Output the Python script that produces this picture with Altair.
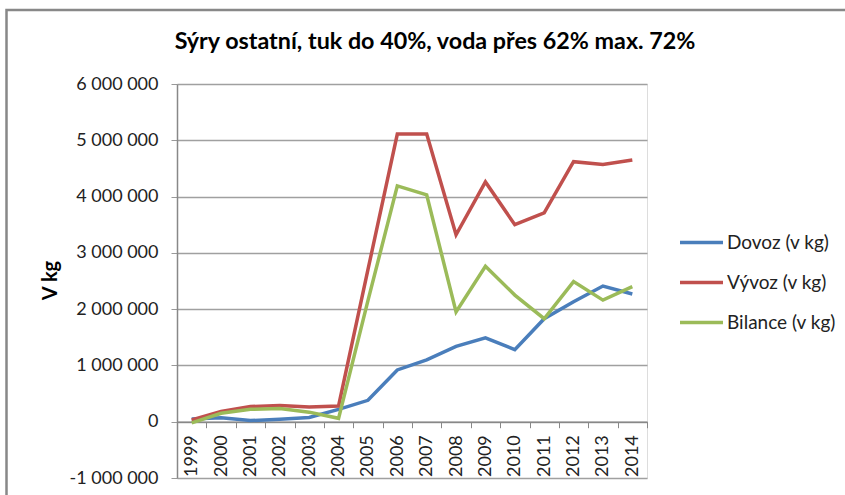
import altair as alt
import pandas as pd

# Years on the category axis
years = ["1999", "2000", "2001", "2002", "2003", "2004", "2005", "2006",
         "2007", "2008", "2009", "2010", "2011", "2012", "2013", "2014"]

# Import, export and balance in kg
dovoz = [50000, 70000, 20000, 45000, 75000, 220000, 380000, 920000,
         1100000, 1340000, 1490000, 1280000, 1830000, 2130000, 2410000, 2270000]
vyvoz = [30000, 180000, 270000, 290000, 260000, 280000, 2700000, 5110000,
         5110000, 3320000, 4260000, 3500000, 3710000, 4620000, 4570000, 4650000]
bilance = [-20000, 150000, 220000, 235000, 170000, 60000, 2150000, 4190000,
           4030000, 1950000, 2760000, 2250000, 1830000, 2490000, 2160000, 2400000]

series_names = ["Dovoz (v kg)", "Vývoz (v kg)", "Bilance (v kg)"]
series_colors = ["#4A7EBB", "#C0504D", "#9BBB59"]
y_ticks = [-1000000, 0, 1000000, 2000000, 3000000, 4000000, 5000000, 6000000]
title_text = "Sýry ostatní, tuk do 40%, voda přes 62% max. 72%"

rows = []
for name, vals in zip(series_names, [dovoz, vyvoz, bilance]):
    for yr, v in zip(years, vals):
        rows.append({"rok": yr, "hodnota": v, "rada": name})
df = pd.DataFrame(rows)

FONT = "Lato"
W, H = 470, 394

lines = alt.Chart(df).mark_line(strokeWidth=3.5, strokeJoin="miter").encode(
    x=alt.X("rok:O", sort=years,
            scale=alt.Scale(type="band", paddingInner=0, paddingOuter=0),
            axis=alt.Axis(title=None, labelAngle=-90, labelAlign="right",
                          labelBaseline="middle", labelPadding=7,
                          tickBand="extent", tickSize=6, tickColor="#888888",
                          domainColor="#888888", domainWidth=1.5,
                          offset=-H / 7, labelFont=FONT, labelFontSize=18,
                          labelColor="#222222", grid=False)),
    y=alt.Y("hodnota:Q",
            scale=alt.Scale(domain=[-1000000, 6000000], nice=False, zero=False),
            axis=alt.Axis(values=y_ticks, title="V kg",
                          labelExpr="replace(replace(format(datum.value, ',d'), regexp(',', 'g'), ' '), '−', '-')",
                          labelPadding=13, tickSize=6, tickColor="#999999",
                          domainColor="#888888", domainWidth=1.5,
                          gridColor="#A0A0A0", gridWidth=1.5,
                          labelFont=FONT, labelFontSize=18, labelColor="#222222",
                          titleFont=FONT, titleFontSize=20, titleFontWeight="bold",
                          titleColor="#000000", titleX=-127, titleY=196,
                          titleAlign="center", titleBaseline="middle")),
    color=alt.Color("rada:N",
                    scale=alt.Scale(domain=series_names, range=series_colors),
                    legend=alt.Legend(title=None, orient="none", legendX=501,
                                      legendY=135, symbolType="stroke",
                                      symbolSize=43 * 43, symbolStrokeWidth=3.5,
                                      labelFont=FONT, labelFontSize=19,
                                      labelColor="#222222", labelOffset=2,
                                      rowPadding=6)),
)

frame = alt.Chart(pd.DataFrame({"a": [0]})).mark_rect(
    fill=None, stroke="#888888", strokeWidth=2.5
).encode(
    x=alt.value(6.5 - 177), x2=alt.value(900 - 177),
    y=alt.value(10 - 84), y2=alt.value(560 - 84),
)

title = alt.Chart(pd.DataFrame({"t": [title_text]})).mark_text(
    font=FONT, fontSize=23.3, fontWeight="bold", color="#000000",
    align="center", baseline="alphabetic"
).encode(text="t:N", x=alt.value(258), y=alt.value(-35))

chart = alt.layer(frame, lines, title).properties(
    width=W, height=H,
    autosize=alt.AutoSizeParams(type="none"),
    padding={"left": 177, "top": 84, "right": 198, "bottom": 17},
).configure_view(stroke=None).configure(background="white")

chart.save("out.html", embed_options={"renderer": "svg", "actions": False})
